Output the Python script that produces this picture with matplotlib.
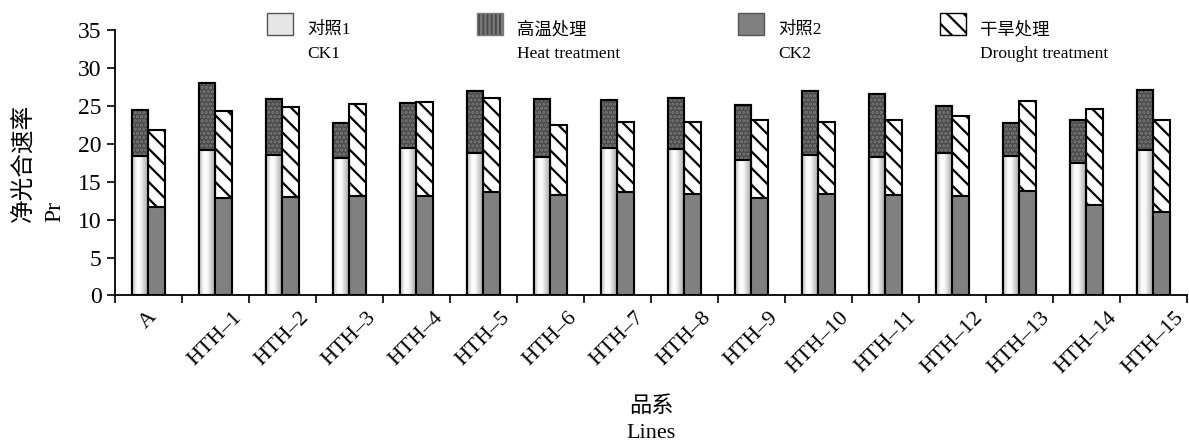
import numpy as np
import matplotlib.pyplot as plt
from matplotlib.patches import Patch, Rectangle
from matplotlib.legend_handler import HandlerPatch

plt.rcParams['font.family'] = ['Liberation Serif', 'Noto Sans CJK SC']
plt.rcParams['hatch.linewidth'] = 1.6
plt.rcParams['axes.unicode_minus'] = False

lines = ['A'] + ['HTH–%d' % i for i in range(1, 16)]
ck1 = [18.4, 19.2, 18.5, 18.1, 19.4, 18.8, 18.3, 19.4, 19.3, 17.9, 18.5, 18.3, 18.8, 18.4, 17.4, 19.2]
heat = [24.5, 28.0, 25.9, 22.8, 25.4, 27.0, 25.9, 25.8, 26.0, 25.1, 26.9, 26.5, 25.0, 22.8, 23.2, 27.1]
ck2 = [11.7, 12.8, 13.0, 13.1, 13.1, 13.6, 13.3, 13.6, 13.4, 12.9, 13.4, 13.2, 13.1, 13.8, 11.9, 11.0]
drought = [21.8, 24.3, 24.8, 25.2, 25.5, 26.1, 22.5, 22.9, 22.9, 23.2, 22.9, 23.2, 23.7, 25.7, 24.6, 23.1]

x = np.arange(len(lines))
w = 0.25

fig = plt.figure(figsize=(11.89, 4.45), dpi=100)
ax = fig.add_axes([0.0967, 0.336, 0.9016, 0.5966])

# left bar: heat treatment behind, CK1 in front
ax.bar(x + 0.375, heat, w, color='#4a4a4a', edgecolor='black', lw=1.5, zorder=2)
ax.bar(x + 0.375, heat, w, color='none', edgecolor='#7a7a7a', hatch='....', lw=0, zorder=2.5)
ax.bar(x + 0.375, heat, w, color='none', edgecolor='black', lw=1.5, zorder=2.6)

# CK1 with cylinder-like gradient
grad = np.interp(np.linspace(0, 1, 64), [0, 0.3, 0.5, 1], [0.72, 1.0, 0.97, 0.62])[np.newaxis, :]
ck1_bars = ax.bar(x + 0.375, ck1, w, color='none', edgecolor='black', lw=1.5, zorder=4)
for b in ck1_bars:
    x0, y0 = b.get_x(), b.get_y()
    im = ax.imshow(grad, extent=[x0, x0 + b.get_width(), y0, y0 + b.get_height()],
                   aspect='auto', cmap='gray', vmin=0, vmax=1, zorder=3, interpolation='bilinear')
    im.set_clip_path(b)

# right bar: drought behind, CK2 in front
ax.bar(x + 0.625, drought, w, color='white', edgecolor='black', hatch='\\\\', lw=1.5, zorder=2)
ax.bar(x + 0.625, ck2, w, color='#808080', edgecolor='black', lw=1.5, zorder=4)

ax.set_xlim(0, len(lines))
ax.set_ylim(0, 35)
ax.set_yticks(range(0, 36, 5))
ax.set_xticks(np.arange(len(lines) + 1))
ax.set_xticklabels([])
ax.set_xticks(x + 0.5, minor=True)
ax.set_xticklabels(lines, minor=True, rotation=45, ha='center', fontsize=16)
ax.tick_params(axis='x', which='minor', length=0, pad=9)
ax.tick_params(axis='x', which='major', length=6, width=1.2, direction='out')
ax.tick_params(axis='y', length=6, width=1.2, labelsize=17)
for s in ['top', 'right']:
    ax.spines[s].set_visible(False)
for s in ['left', 'bottom']:
    ax.spines[s].set_linewidth(1.3)

ax.set_ylabel('净光合速率\nPr', fontsize=17, multialignment='left', va='center',
              linespacing=1.6)
ax.yaxis.set_label_coords(-0.071, 0.5)
ax.set_xlabel('品系\nLines', fontsize=16, linespacing=1.45, labelpad=14)


def top_box(legend, orig_handle, xdescent, ydescent, width, height, fontsize):
    # handle sits beside the first (Chinese) line of the two-line label
    return Rectangle((-xdescent, 9.4), 18.7, 15.8)


handles = [
    Patch(facecolor='#e6e6e6', edgecolor='#555555'),
    Patch(facecolor='#4a4a4a', edgecolor='#7a7a7a', hatch='||||'),
    Patch(facecolor='#808080', edgecolor='#555555'),
    Patch(facecolor='white', edgecolor='black', hatch='\\\\'),
]
labels = ['对照1\nCK1', '高温处理\nHeat treatment', '对照2\nCK2', '干旱处理\nDrought treatment']
lx = [267, 477, 738, 940]
for h, lab, px in zip(handles, labels, lx):
    leg = fig.legend([h], [lab], loc='lower left', bbox_to_anchor=(px / 1189, 1 - 62 / 445),
                     frameon=False, fontsize=12.5, handlelength=1.5, handleheight=1.0,
                     handletextpad=0.8, borderpad=0, borderaxespad=0,
                     handler_map={Patch: HandlerPatch(patch_func=top_box)})
    for t in leg.get_texts():
        t.set_linespacing(1.65)

fig.savefig('out.png', dpi=100)
